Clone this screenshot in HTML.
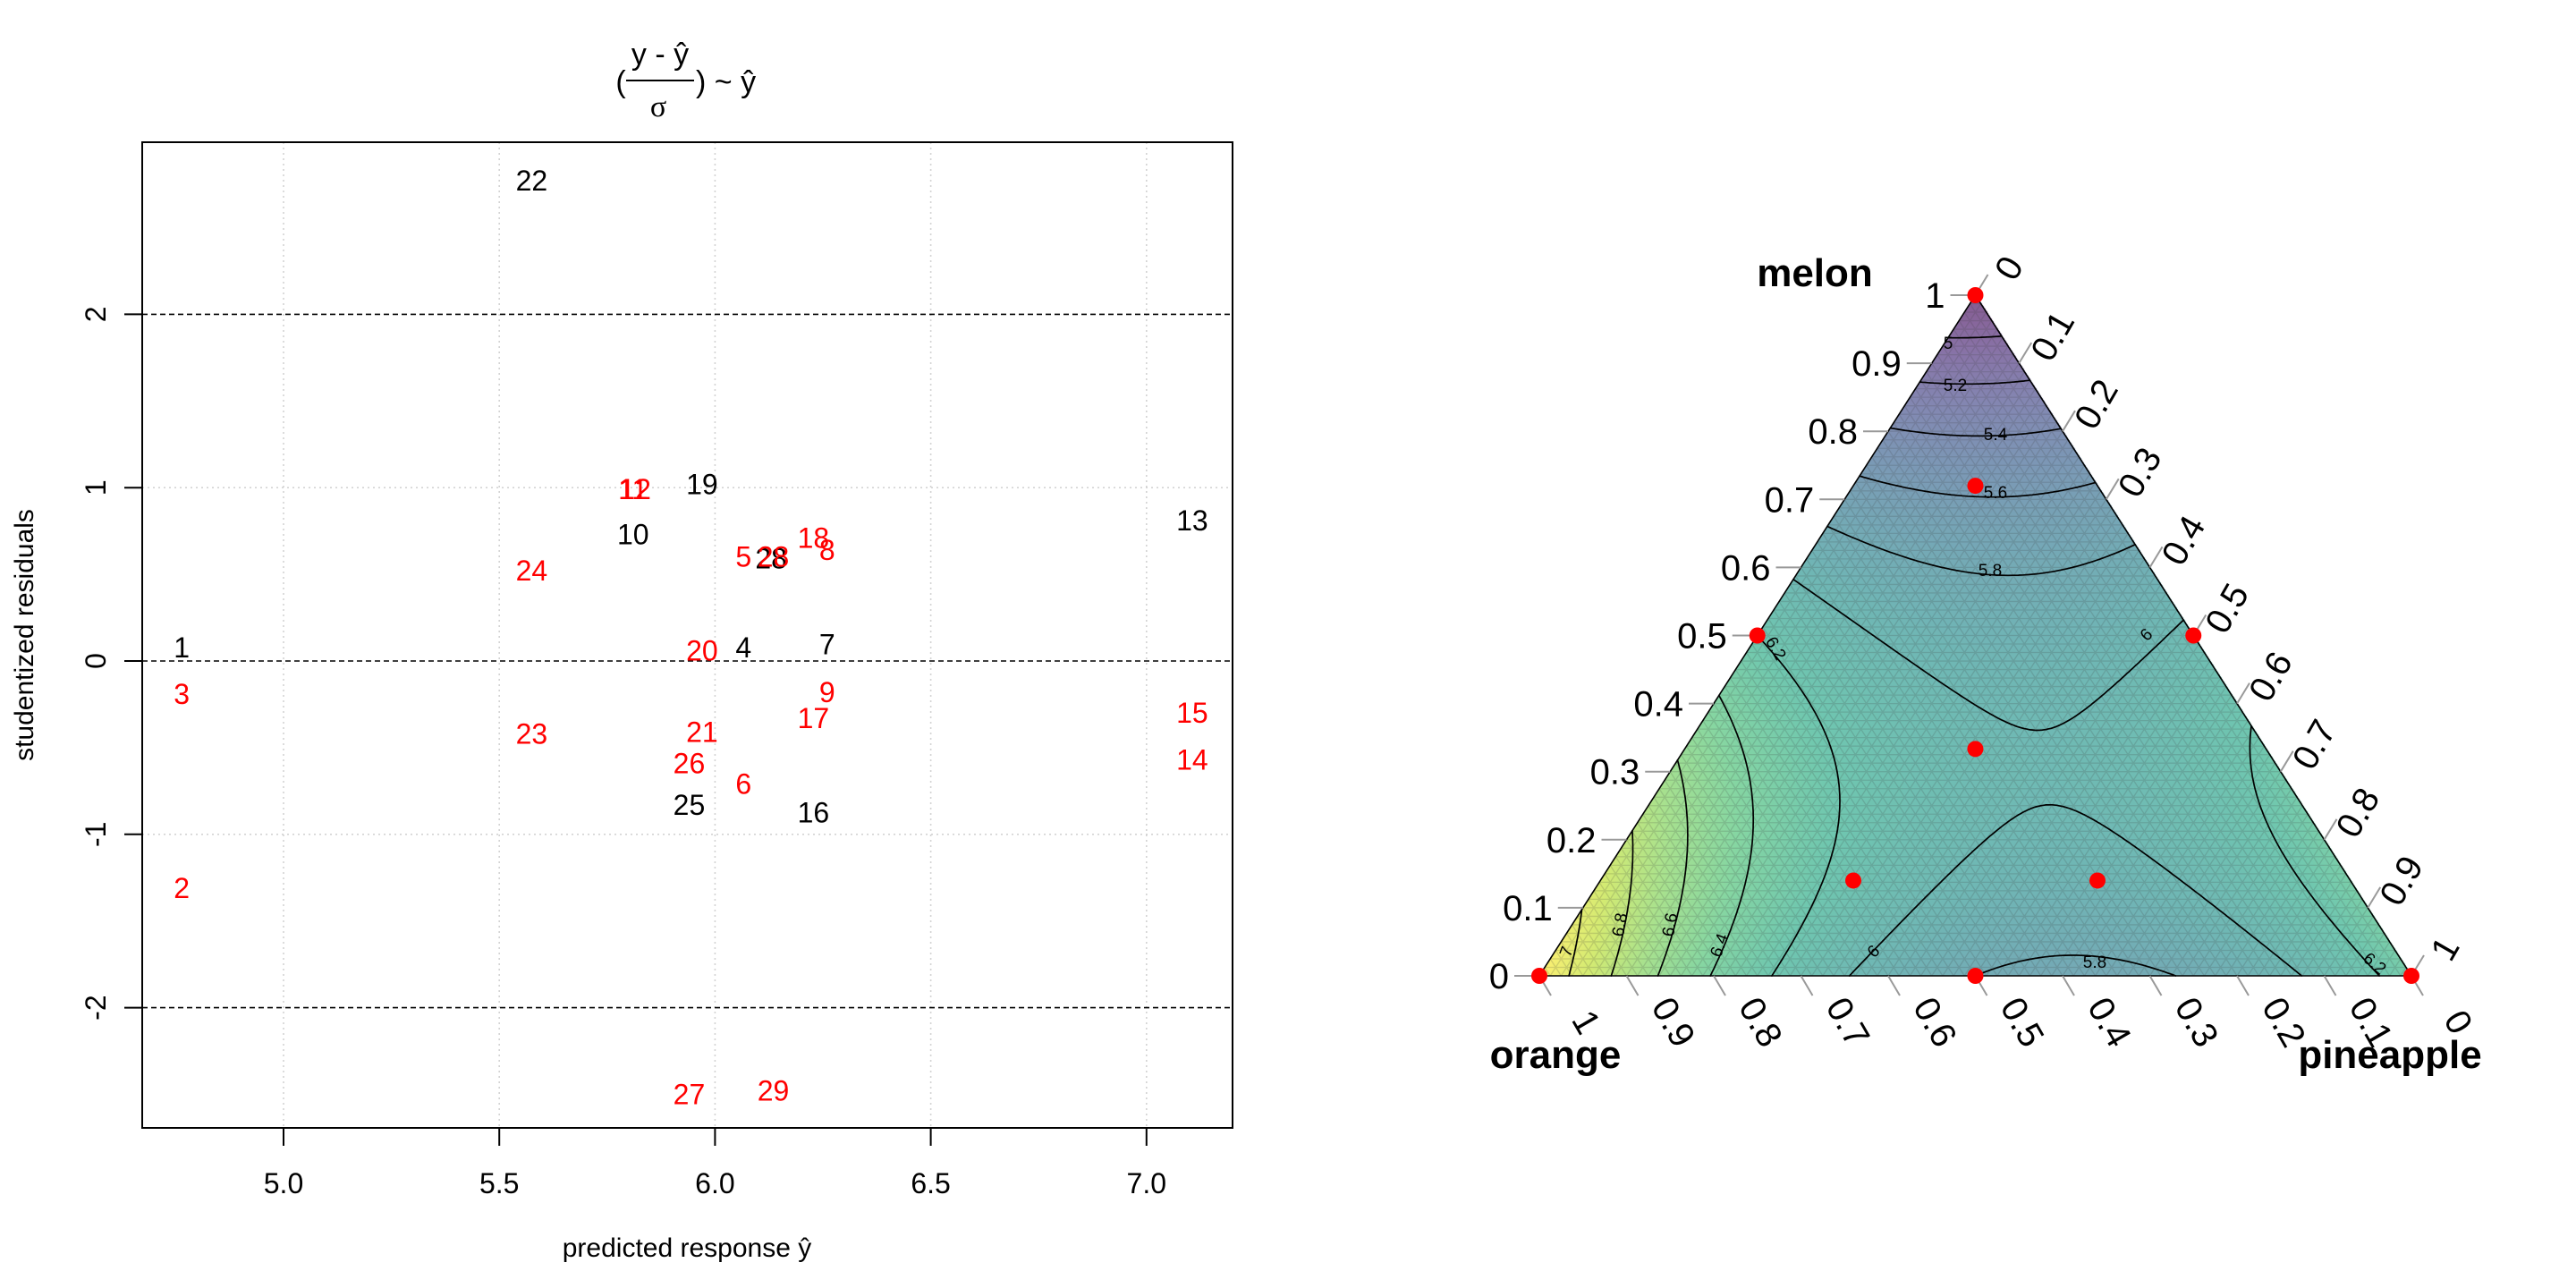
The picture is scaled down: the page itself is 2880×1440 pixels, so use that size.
<!DOCTYPE html>
<html><head><meta charset="utf-8">
<style>
html,body{margin:0;padding:0;background:#fff;}
#wrap{position:relative;width:2880px;height:1440px;overflow:hidden;font-family:"Liberation Sans",Arial,sans-serif;}
svg{position:absolute;left:0;top:0;}
canvas{position:absolute;}
</style></head>
<body>
<div id="wrap">
<canvas id="fill" width="975" height="761" style="left:1721px;top:330px"></canvas>
<svg id="svg" width="2880" height="1440" viewBox="0 0 2880 1440">
  <g id="left"></g>
  <g id="right"></g>
  <g font-family="Liberation Sans, sans-serif" font-size="34" fill="#000">
    <text x="694" y="103" text-anchor="middle">(</text>
    <text x="738" y="72" text-anchor="middle">y - ŷ</text>
    <line x1="700" y1="90" x2="776" y2="90" stroke="#000" stroke-width="2"/>
    <text x="736" y="130" text-anchor="middle" font-family="Liberation Serif, serif">σ</text>
    <text x="778" y="103">) ~ ŷ</text>
  </g>
</svg>
</div>
<script>
// ---------- residual plot data ----------
const pointLabels = ["1","2","3","4","5","6","7","8","9","10","11","12","13","14","15","16","17","18","19","20","21","22","23","24","25","26","27","28","28","29"];
const predicted   = [4.764,4.764,4.764,6.066,6.066,6.066,6.26,6.26,6.26,5.81,5.81,5.815,7.106,7.106,7.106,6.228,6.228,6.228,5.97,5.97,5.97,5.575,5.575,5.575,5.94,5.94,5.94,6.13,6.135,6.135];
const residuals   = [0.077,-1.31,-0.19,0.077,0.60,-0.71,0.096,0.64,-0.18,0.73,0.99,0.99,0.81,-0.57,-0.30,-0.875,-0.33,0.71,1.02,0.06,-0.41,2.77,-0.42,0.52,-0.83,-0.59,-2.50,0.59,0.60,-2.48];
const pointColors = ["k","r","r","k","r","r","k","r","r","k","r","r","k","r","r","k","r","r","k","r","r","k","r","r","k","r","r","k","r","r"];
const xTicks = [5.0,5.5,6.0,6.5,7.0];
const xTickLabels = ["5.0","5.5","6.0","6.5","7.0"];
const yTicks = [-2,-1,0,1,2];
const yTickLabels = ["-2","-1","0","1","2"];
const refLines = [-2,0,2];

// ---------- ternary data ----------
const designOrange    = [1,0,0,0.5,0.5,0,0.3333,0.14,0.57,0.29];
const designMelon     = [0,1,0,0.5,0,0.5,0.3333,0.72,0.14,0.14];
const designPineapple = [0,0,1,0,0.5,0.5,0.3333,0.14,0.29,0.57];
const coefLinear = [7.15,4.8,6.3];
const coefPairs  = [0.9,-3.7,1.94];
const coefTriple = [1.0];
const contourLevels = [5,5.2,5.4,5.6,5.8,6,6.2,6.4,6.6,6.8,7];
const axisTicks = [0,0.1,0.2,0.3,0.4,0.5,0.6,0.7,0.8,0.9,1];
const axisTickLabels = ["0","0.1","0.2","0.3","0.4","0.5","0.6","0.7","0.8","0.9","1"];

const NS="http://www.w3.org/2000/svg";
function mk(tag,attrs,parent){const e=document.createElementNS(NS,tag);for(const k in attrs)e.setAttribute(k,attrs[k]);parent.appendChild(e);return e;}

const L=document.getElementById('left');
const X0=159,X1=1378,Y0=159,Y1=1261;
function xs(v){return 317+(v-5)*482.4;}
function ys(v){return 739-v*193.8;}
xTicks.forEach((t,i)=>{
  const g=mk('line',{x1:xs(t),x2:xs(t),y1:Y0,y2:Y1,stroke:'#d3d3d3','stroke-width':1.6,'stroke-dasharray':'2 4'},L);
  
  
});
yTicks.forEach(t=>{
  if(refLines.indexOf(t)>=0)return;
  const g=mk('line',{x1:X0,x2:X1,y1:ys(t),y2:ys(t),stroke:'#d3d3d3','stroke-width':1.6,'stroke-dasharray':'2 4'},L);
  
  
});
refLines.forEach(t=>{
  const g=mk('line',{x1:X0,x2:X1,y1:ys(t),y2:ys(t),stroke:'#000','stroke-width':1.6,'stroke-dasharray':'6 4'},L);
  
  
});
const box=mk('rect',{x:X0,y:Y0,width:X1-X0,height:Y1-Y0,fill:'none',stroke:'#000','stroke-width':2},L);


xTicks.forEach((t,i)=>{
  const tk=mk('line',{x1:xs(t),x2:xs(t),y1:Y1,y2:Y1+20,stroke:'#000','stroke-width':2},L);
  
  
  const tx=mk('text',{x:xs(t),y:1334,'text-anchor':'middle','font-size':32},L);
  tx.textContent=xTickLabels[i];
  
  
});
yTicks.forEach((t,i)=>{
  const tk=mk('line',{x1:X0-20,x2:X0,y1:ys(t),y2:ys(t),stroke:'#000','stroke-width':2},L);
  
  
  const tx=mk('text',{x:0,y:0,'text-anchor':'middle','font-size':32,transform:`translate(118,${ys(t)}) rotate(-90)`},L);
  tx.textContent=yTickLabels[i];
  
  
});
const xl=mk('text',{x:768,y:1405,'text-anchor':'middle','font-size':30},L);
xl.textContent='predicted response ŷ';


const yl=mk('text',{x:0,y:0,'text-anchor':'middle','font-size':30,transform:'translate(37,710) rotate(-90)'},L);
yl.textContent='studentized residuals';


pointLabels.forEach((lab,i)=>{
  const t=mk('text',{x:xs(predicted[i]),y:ys(residuals[i])+11,'text-anchor':'middle','font-size':32,fill:pointColors[i]==='r'?'#ff0000':'#000'},L);
  t.textContent=lab;
  
  
});

const TL={x:1721,y:1091},TR={x:2696,y:1091},W=975,H=761;
function tx(o,m,p){return TL.x+(p+m/2)*W;}
function ty(o,m,p){return TL.y-m*H;}
function model(o,m,p){
  return coefLinear[0]*o+coefLinear[1]*m+coefLinear[2]*p+coefPairs[0]*o*m+coefPairs[1]*o*p+coefPairs[2]*m*p+coefTriple[0]*o*m*p;
}
const vstops=[[68,1,84],[72,36,117],[65,68,135],[53,95,141],[42,120,142],[33,145,140],[34,168,132],[68,191,112],[122,209,81],[189,223,38],[253,231,37]];
function viridis(t){t=Math.max(0,Math.min(1,t));const s=t*10,i=Math.min(9,Math.floor(s)),f=s-i;const a=vstops[i],b=vstops[i+1];return [a[0]+(b[0]-a[0])*f,a[1]+(b[1]-a[1])*f,a[2]+(b[2]-a[2])*f];}
const cv=document.getElementById('fill'),ctx=cv.getContext('2d');
const img=ctx.createImageData(W,H);
const zmin=4.8,zmax=7.15,alpha=0.65;
for(let py=0;py<H;py++){
  const m=(H-py)/H;
  for(let px=0;px<W;px++){
    const p=px/W-m/2,o=1-m-p;
    if(p<-0.001||o<-0.001)continue;
    const c=viridis((model(o,m,p)-zmin)/(zmax-zmin));
    const k=(py*W+px)*4;
    img.data[k]=c[0]*alpha+255*(1-alpha);img.data[k+1]=c[1]*alpha+255*(1-alpha);img.data[k+2]=c[2]*alpha+255*(1-alpha);img.data[k+3]=255;
  }
}
ctx.putImageData(img,0,0);
const R=document.getElementById('right');
let gd='';const GN=80;
for(let i=1;i<GN;i++){const v=i/GN;
  gd+=`M${tx(1-v,v,0)} ${ty(1-v,v,0)}L${tx(0,v,1-v)} ${ty(0,v,1-v)}`;
  gd+=`M${tx(1-v,0,v)} ${ty(1-v,0,v)}L${tx(0,1-v,v)} ${ty(0,1-v,v)}`;
  gd+=`M${tx(v,0,1-v)} ${ty(v,0,1-v)}L${tx(v,1-v,0)} ${ty(v,1-v,0)}`;}
const grid=mk('path',{d:gd,stroke:'rgba(60,60,60,0.18)','stroke-width':1.3,fill:'none'},R);


const N=160;
function val(i,j){const p=i/N,m=j/N;return model(1-p-m,m,p);}
function pt(i,j){const p=i/N,m=j/N;return [tx(1-p-m,m,p),ty(1-p-m,m,p)];}
contourLevels.forEach(lev=>{
  let d='';
  function tri(a,b,c){
    const vs=[a,b,c].map(q=>val(q[0],q[1]));const ps=[a,b,c].map(q=>pt(q[0],q[1]));const out=[];
    for(let e=0;e<3;e++){const u=e,w=(e+1)%3;const du=vs[u]-lev,dw=vs[w]-lev;
      if((du<0)!==(dw<0)){const f=du/(du-dw);out.push([ps[u][0]+(ps[w][0]-ps[u][0])*f,ps[u][1]+(ps[w][1]-ps[u][1])*f]);}}
    if(out.length===2)d+=`M${out[0][0].toFixed(1)} ${out[0][1].toFixed(1)}L${out[1][0].toFixed(1)} ${out[1][1].toFixed(1)}`;
  }
  for(let i=0;i<N;i++)for(let j=0;i+j<N;j++){
    tri([i,j],[i+1,j],[i,j+1]);
    if(i+j+2<=N)tri([i+1,j],[i+1,j+1],[i,j+1]);
  }
  const c=mk('path',{d:d,stroke:'#000','stroke-width':1.7,fill:'none','stroke-linecap':'round'},R);
  
  
});
const clabels=[["5",2178,384,0],["5.2",2186,431,0],["5.4",2231,486,0],["5.6",2231,551,0],["5.8",2225,638,0],["6",2404,708,-45],["6.2",1980,722,60],["6.2",2651,1076,40],["5.8",2342,1076,0],["6",2099,1062,-45],["6.4",1928,1053,-70],["6.6",1873,1029,-80],["6.8",1817,1029,-80],["7",1757,1060,-70]];
clabels.forEach(l=>{
  const t=mk('text',{x:0,y:0,'text-anchor':'middle','font-size':19,transform:`translate(${l[1]},${l[2]+6}) rotate(${l[3]})`},R);
  t.textContent=l[0];
  
  
});
const outline=mk('path',{d:`M${TL.x} ${TL.y}L${TR.x} ${TR.y}L${tx(0,1,0)} ${ty(0,1,0)}Z`,stroke:'#000','stroke-width':1.6,fill:'none'},R);


axisTicks.forEach((v,i)=>{
  let ex=tx(1-v,v,0),ey=ty(1-v,v,0);
  let tk=mk('line',{x1:ex-28,y1:ey,x2:ex,y2:ey,stroke:'#999','stroke-width':2},R);
  
  
  let t=mk('text',{x:ex-34,y:ey+14,'text-anchor':'end','font-size':40},R);
  t.textContent=axisTickLabels[i];
  
  
  ex=tx(0,1-v,v);ey=ty(0,1-v,v);
  tk=mk('line',{x1:ex,y1:ey,x2:ex+14,y2:ey-23,stroke:'#999','stroke-width':2},R);
  
  
  t=mk('text',{x:0,y:0,'text-anchor':'middle','font-size':40,transform:`translate(${ex+38},${ey-30}) rotate(-60) translate(0,13)`},R);
  t.textContent=axisTickLabels[i];
  
  
  ex=tx(v,0,1-v);ey=ty(v,0,1-v);
  tk=mk('line',{x1:ex,y1:ey,x2:ex+13,y2:ey+22,stroke:'#999','stroke-width':2},R);
  
  
  t=mk('text',{x:0,y:0,'text-anchor':'middle','font-size':40,transform:`translate(${ex+52},${ey+52}) rotate(60) translate(0,13)`},R);
  t.textContent=axisTickLabels[i];
  
  
});
[["melon",2029,320,'melon-axis-title'],["orange",1739,1194,'orange-axis-title'],["pineapple",2672,1194,'pineapple-axis-title']].forEach(a=>{
  const t=mk('text',{x:a[1],y:a[2],'text-anchor':'middle','font-size':44,'font-weight':'bold'},R);
  t.textContent=a[0];
  
  
});
designOrange.forEach((o,i)=>{
  const c=mk('circle',{cx:tx(o,designMelon[i],designPineapple[i]),cy:ty(o,designMelon[i],designPineapple[i]),r:9,fill:'#ff0000'},R);
  
  
});
</script>
</body></html>
